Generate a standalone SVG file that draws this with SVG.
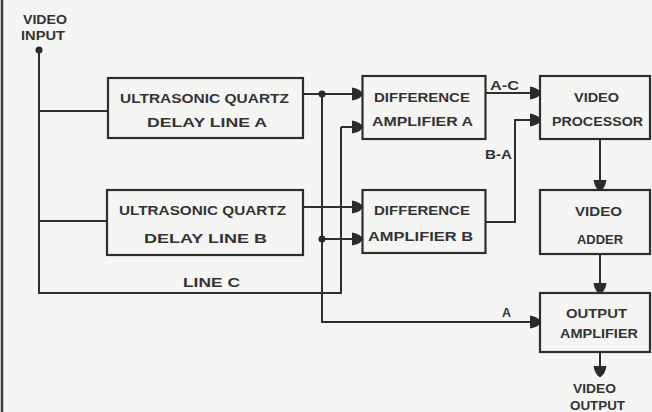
<svg xmlns="http://www.w3.org/2000/svg" width="652" height="412" viewBox="0 0 652 412">
<defs>
<marker id="ah" markerUnits="userSpaceOnUse" markerWidth="12" markerHeight="16" refX="11" refY="7" orient="auto">
<path d="M0,0.5 Q9,2 11,7 Q9,12 0,13.5 Z" fill="#2a2a2a"/>
</marker>
<style>
.bx{fill:none;stroke:#2e2e2e;stroke-width:2.2}
.ln{fill:none;stroke:#2e2e2e;stroke-width:2}
.ar{marker-end:url(#ah)}
.dot{fill:#2a2a2a}
text{font-family:"Liberation Sans",Arial,sans-serif;font-weight:bold;font-size:13.5px;fill:#333;text-anchor:middle}
</style>
</defs>
<rect width="652" height="412" fill="#f5f5f3"/>
<line x1="2" y1="0" x2="2" y2="412" stroke="#3a3a3a" stroke-width="2.5"/>

<g id="video-input">
<text x="45" y="24" textLength="44" lengthAdjust="spacingAndGlyphs">VIDEO</text>
<text x="43" y="39.5" textLength="44" lengthAdjust="spacingAndGlyphs">INPUT</text>
<circle class="dot" cx="39" cy="50" r="3.5"/>
</g>

<g id="delay-a">
<rect class="bx" x="108" y="78" width="195" height="60"/>
<text x="204.5" y="103" textLength="169" lengthAdjust="spacingAndGlyphs">ULTRASONIC QUARTZ</text>
<text x="207" y="127" textLength="120" lengthAdjust="spacingAndGlyphs">DELAY LINE A</text>
</g>

<g id="delay-b">
<rect class="bx" x="107" y="190" width="196" height="65"/>
<text x="202.5" y="215" textLength="167" lengthAdjust="spacingAndGlyphs">ULTRASONIC QUARTZ</text>
<text x="205.5" y="242.5" textLength="123" lengthAdjust="spacingAndGlyphs">DELAY LINE B</text>
</g>

<g id="diff-a">
<rect class="bx" x="362.5" y="76" width="123" height="63"/>
<text x="422" y="101.5" textLength="96" lengthAdjust="spacingAndGlyphs">DIFFERENCE</text>
<text x="422.5" y="125.5" textLength="101" lengthAdjust="spacingAndGlyphs">AMPLIFIER A</text>
</g>

<g id="diff-b">
<rect class="bx" x="362.5" y="190" width="123" height="63"/>
<text x="422" y="215" textLength="96" lengthAdjust="spacingAndGlyphs">DIFFERENCE</text>
<text x="420.5" y="241" textLength="105" lengthAdjust="spacingAndGlyphs">AMPLIFIER B</text>
</g>

<g id="video-processor">
<rect class="bx" x="540" y="76" width="110" height="63"/>
<text x="596.5" y="101.5" textLength="45" lengthAdjust="spacingAndGlyphs">VIDEO</text>
<text x="597.5" y="125.5" textLength="91" lengthAdjust="spacingAndGlyphs">PROCESSOR</text>
</g>

<g id="video-adder">
<rect class="bx" x="540" y="190" width="110" height="64"/>
<text x="598.5" y="215.5" textLength="47" lengthAdjust="spacingAndGlyphs">VIDEO</text>
<text x="600" y="244" textLength="46" lengthAdjust="spacingAndGlyphs">ADDER</text>
</g>

<g id="output-amplifier">
<rect class="bx" x="540" y="293" width="110" height="59"/>
<text x="596.5" y="318" textLength="61" lengthAdjust="spacingAndGlyphs">OUTPUT</text>
<text x="599" y="338" textLength="78" lengthAdjust="spacingAndGlyphs">AMPLIFIER</text>
</g>

<g id="video-output">
<text x="594.5" y="393" textLength="43" lengthAdjust="spacingAndGlyphs">VIDEO</text>
<text x="597.5" y="410" textLength="55" lengthAdjust="spacingAndGlyphs">OUTPUT</text>
</g>

<g id="connectors">
<polyline class="ln" points="39,50 39,293 341,293 341,127"/>
<line class="ln ar" x1="341" y1="127" x2="363" y2="127"/>
<line class="ln" x1="39" y1="111" x2="108" y2="111"/>
<line class="ln" x1="39" y1="221" x2="107" y2="221"/>
<line class="ln ar" x1="303" y1="94" x2="363" y2="94"/>
<circle class="dot" cx="322" cy="94" r="3.5"/>
<polyline class="ln" points="322,94 322,322 530,322"/>
<line class="ln ar" x1="500" y1="322" x2="541" y2="322"/>
<line class="ln ar" x1="303" y1="207" x2="363" y2="207"/>
<line class="ln ar" x1="322" y1="239" x2="363" y2="239"/>
<circle class="dot" cx="322" cy="239" r="3.5"/>
<line class="ln ar" x1="486" y1="93" x2="541" y2="93"/>
<polyline class="ln" points="486,222 515,222 515,120 530,120"/>
<line class="ln ar" x1="515" y1="120" x2="541" y2="120"/>
<line class="ln ar" x1="600" y1="139" x2="600" y2="191"/>
<line class="ln ar" x1="600" y1="254" x2="600" y2="294"/>
<line class="ln ar" x1="600" y1="352" x2="600" y2="377"/>
<text x="504.5" y="90" textLength="29" lengthAdjust="spacingAndGlyphs">A-C</text>
<text x="498.5" y="159" textLength="27" lengthAdjust="spacingAndGlyphs">B-A</text>
<text x="506.5" y="317" textLength="9" lengthAdjust="spacingAndGlyphs">A</text>
<text x="211.5" y="287" textLength="57" lengthAdjust="spacingAndGlyphs">LINE C</text>
</g>
</svg>
